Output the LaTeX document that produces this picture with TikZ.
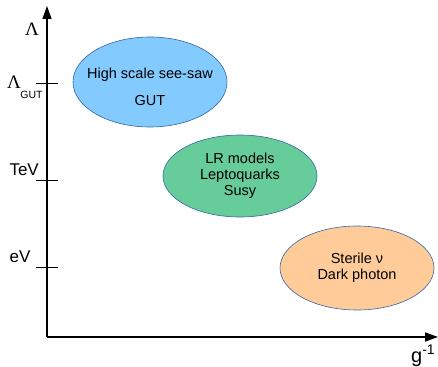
\documentclass[tikz,border=0pt]{standalone}
\usepackage{fontspec}
\setmainfont{Liberation Sans}
\newfontfamily\serifL{Liberation Serif}
\usetikzlibrary{arrows.meta,shapes.geometric}
\definecolor{blueF}{HTML}{83CAFF}
\definecolor{greenF}{HTML}{66CC99}
\definecolor{orangeF}{HTML}{FFCC99}
\definecolor{edgeC}{HTML}{3465A4}
\tikzset{
  axis/.style={line width=1.3pt,-{Triangle[length=13pt,width=9pt]}},
  tick/.style={line width=0.9pt},
  blob/.style={ellipse,draw=edgeC,line width=0.6pt,inner sep=0pt,align=center,
    font=\fontsize{14.5}{16}\selectfont},
  lab/.style={inner sep=0pt,font=\fontsize{17}{19}\selectfont},
  biglam/.style={inner sep=0pt,font=\serifL\fontsize{19}{21}\selectfont},
}
\begin{document}
\begin{tikzpicture}[x=1pt,y=-1pt]
\useasboundingbox (0,0) rectangle (438,366);
% axes
\coordinate (O) at (47,337);
\coordinate (Ytop) at (47,6);
\coordinate (Xend) at (438,337);
\draw[axis] (O) -- (Ytop);
\draw[axis] (O) -- (Xend);
% ticks
\coordinate (t1a) at (36,83); \coordinate (t1b) at (58,83);
\coordinate (t2a) at (36,180); \coordinate (t2b) at (58,180);
\coordinate (t3a) at (36,267); \coordinate (t3b) at (58,267);
\draw[tick] (t1a) -- (t1b);
\draw[tick] (t2a) -- (t2b);
\draw[tick] (t3a) -- (t3b);
% labels
\node[biglam] (lam) at (32,29.5) {Λ};
\node[biglam] (lamg) at (14,82.5) {Λ};
\node[inner sep=0pt,font=\fontsize{10.5}{12}\selectfont] (gut) at (31.5,95) {GUT};
\node[lab,anchor=east] (tev) at (39,170) {TeV};
\node[lab] (ev) at (20,257) {eV};
\node[inner sep=0pt,anchor=base west,font=\fontsize{20}{22}\selectfont] (g) at (411,362) {g\textsuperscript{-1}};
% ellipses
\node[blob,fill=blueF,minimum width=154pt,minimum height=90pt] (blue) at (150,82) {};
\node[inner sep=0pt,align=center,font=\fontsize{14.5}{27}\selectfont] (bluetxt) at (150,86.5) {High scale see-saw\\GUT};
\node[blob,fill=greenF,minimum width=154pt,minimum height=82pt] (green) at (240,176) {LR models\\Leptoquarks\\Susy};
\node[blob,fill=orangeF,minimum width=154pt,minimum height=84pt] (orange) at (357,268) {Sterile ν\\Dark photon};
\end{tikzpicture}
\end{document}
